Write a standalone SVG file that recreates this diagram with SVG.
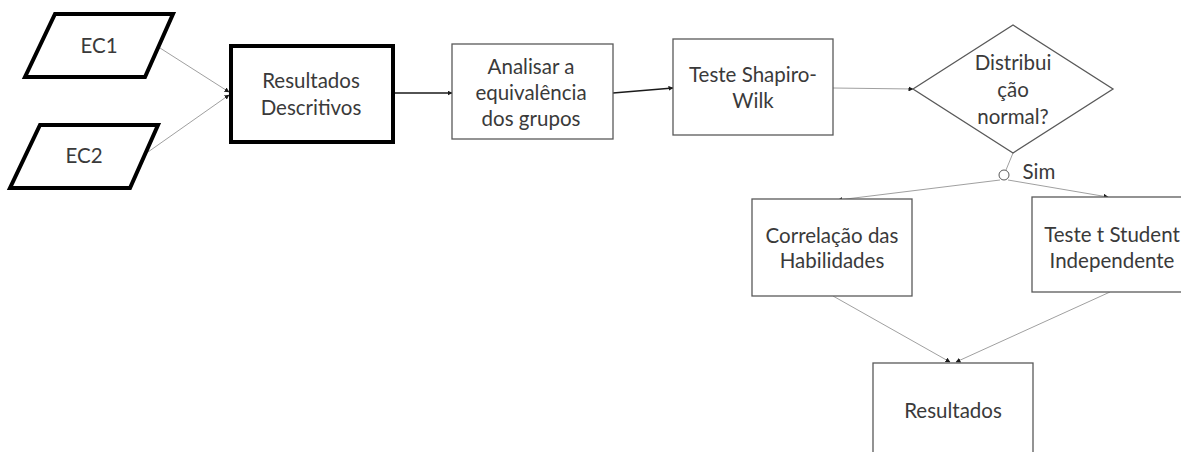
<svg xmlns="http://www.w3.org/2000/svg" width="1181" height="452" viewBox="0 0 1181 452">
  <style>
    .box { fill: #fff; stroke: #595959; stroke-width: 1.3; }
    .bold { fill: #fff; stroke: #000; stroke-width: 4; }
    .lbl { font-family: Lato, "Liberation Sans", sans-serif; font-size: 20.5px; fill: #3a3a3a; text-anchor: middle; }
    .thin { stroke: #a0a0a0; stroke-width: 1; fill: none; }
    .dark { stroke: #1a1a1a; stroke-width: 1.5; fill: none; }
  </style>
  <defs>
    <marker id="arr" viewBox="0 0 10 10" refX="9" refY="5" markerWidth="5" markerHeight="5" markerUnits="userSpaceOnUse" orient="auto">
      <path d="M0,0 L10,5 L0,10 z" fill="#1a1a1a"/>
    </marker>
  </defs>

  <g id="connectors">
    <line class="thin" x1="160" y1="48" x2="229" y2="92" marker-end="url(#arr)"/>
    <line class="thin" x1="148" y1="152" x2="229" y2="95" marker-end="url(#arr)"/>
    <line class="dark" x1="393" y1="93" x2="452" y2="93" marker-end="url(#arr)"/>
    <line class="dark" x1="613" y1="93" x2="673" y2="88" marker-end="url(#arr)"/>
    <line class="thin" x1="833" y1="88" x2="913" y2="89" marker-end="url(#arr)"/>
    <line class="thin" x1="1013" y1="153" x2="1006" y2="170"/>
    <circle cx="1004" cy="175" r="5" fill="#fff" stroke="#595959" stroke-width="1"/>
    <line class="thin" x1="1000" y1="180" x2="838" y2="200" marker-end="url(#arr)"/>
    <line class="thin" x1="1008" y1="180" x2="1108" y2="197" marker-end="url(#arr)"/>
    <line class="thin" x1="833" y1="296" x2="950" y2="362" marker-end="url(#arr)"/>
    <line class="thin" x1="1110" y1="292" x2="956" y2="362" marker-end="url(#arr)"/>
  </g>

  <g id="ec1">
    <polygon class="bold" points="55,14 173,14 145,77 25,77"/>
    <text class="lbl" x="99" y="53">EC1</text>
  </g>
  <g id="ec2">
    <polygon class="bold" points="40,125 158,125 130,188 10,188"/>
    <text class="lbl" x="84" y="163">EC2</text>
  </g>
  <g id="resultados-descritivos">
    <rect class="bold" x="231" y="46" width="162" height="96"/>
    <text class="lbl" x="311" y="88">Resultados</text>
    <text class="lbl" x="311" y="115">Descritivos</text>
  </g>
  <g id="analisar">
    <rect class="box" x="452" y="44" width="161" height="95"/>
    <text class="lbl" x="531" y="74">Analisar a</text>
    <text class="lbl" x="531" y="100">equivalência</text>
    <text class="lbl" x="531" y="126">dos grupos</text>
  </g>
  <g id="shapiro">
    <rect class="box" x="673" y="39" width="160" height="96"/>
    <text class="lbl" x="753" y="82">Teste Shapiro-</text>
    <text class="lbl" x="753" y="108">Wilk</text>
  </g>
  <g id="decisao">
    <polygon class="box" points="913,89 1013,25 1113,89 1013,153"/>
    <text class="lbl" x="1013" y="70">Distribui</text>
    <text class="lbl" x="1013" y="97">ção</text>
    <text class="lbl" x="1013" y="124">normal?</text>
    <text class="lbl" x="1039" y="179">Sim</text>
  </g>
  <g id="correlacao">
    <rect class="box" x="752" y="199" width="160" height="97"/>
    <text class="lbl" x="832" y="243">Correlação das</text>
    <text class="lbl" x="832" y="268">Habilidades</text>
  </g>
  <g id="teste-t">
    <rect class="box" x="1032" y="197" width="160" height="95"/>
    <text class="lbl" x="1112" y="242">Teste t Student</text>
    <text class="lbl" x="1112" y="268">Independente</text>
  </g>
  <g id="resultados">
    <rect class="box" x="873" y="363" width="160" height="100"/>
    <text class="lbl" x="953" y="418">Resultados</text>
  </g>
</svg>
